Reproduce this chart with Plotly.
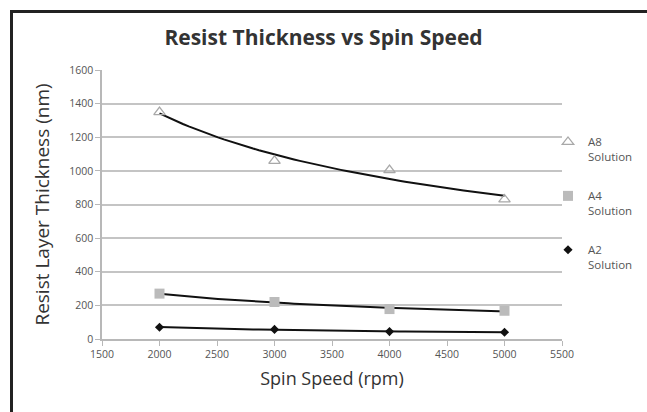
import numpy as np
import plotly.graph_objects as go

spin_speed = [2000, 3000, 4000, 5000]
a8_thickness = [1350, 1060, 1005, 830]
a4_thickness = [270, 220, 178, 168]
a2_thickness = [70, 57, 44, 40]
series_names = ["A8<br>Solution", "A4<br>Solution", "A2<br>Solution"]

def power_fit(x, y):
    b, ln_a = np.polyfit(np.log(x), np.log(y), 1)
    xs = np.linspace(min(x), max(x), 60)
    return xs, np.exp(ln_a) * xs ** b

W, H = 647, 412
L, R, T, B = 102, 85, 70, 73
PW, PH = W - L - R, H - T - B

fig = go.Figure()

styles = [
    dict(symbol="triangle-up-open", size=10, color="#a8a8a8", line=dict(width=1.3, color="#a8a8a8")),
    dict(symbol="square", size=10, color="#bbbbbb"),
    dict(symbol="diamond", size=7, color="#111111"),
]
data = [a8_thickness, a4_thickness, a2_thickness]

for ys in data:
    xs, yf = power_fit(np.array(spin_speed, float), np.array(ys, float))
    fig.add_trace(go.Scatter(x=xs, y=yf, mode="lines",
                             line=dict(color="#111111", width=2),
                             showlegend=False, hoverinfo="skip"))

for i, (ys, name, st) in enumerate(zip(data, series_names, styles)):
    fig.add_trace(go.Scatter(x=spin_speed, y=ys, mode="markers", name=name,
                             marker=st, legendgroup=f"g{i}"))

fig.update_layout(
    width=W, height=H,
    margin=dict(l=L, r=R, t=T, b=B, autoexpand=False),
    paper_bgcolor="white", plot_bgcolor="white",
    font=dict(family="Open Sans, Liberation Sans, sans-serif", color="#555555"),
    title=dict(text="<b>Resist Thickness vs Spin Speed</b>", x=0.5, xanchor="center",
               y=1 - 38 / H, yanchor="middle",
               font=dict(size=21, color="#333333")),
    showlegend=True,
    legend=dict(x=(548 - L) / PW, xanchor="left", y=1 - (128 - T) / PH, yanchor="top",
                font=dict(size=11.5, color="#555555"), tracegroupgap=21,
                valign="top", bgcolor="rgba(0,0,0,0)", itemwidth=30),
    shapes=[dict(type="rect", xref="paper", yref="paper",
                 x0=(11.5 - L) / PW, y0=1 + (T - 11.5) / PH, x1=1.5, y1=-0.5,
                 line=dict(color="#222222", width=3), layer="above")],
)

fig.update_xaxes(range=[1500, 5500], dtick=500, tick0=1500,
                 showgrid=False, showline=True, linecolor="#b8b8b8", linewidth=1.5,
                 ticks="outside", ticklen=5, tickcolor="#b8b8b8",
                 tickfont=dict(size=10.5, color="#555555"),
                 title=dict(text="Spin Speed (rpm)", font=dict(size=18, color="#333333"), standoff=12),
                 zeroline=False)
fig.update_yaxes(range=[0, 1600], dtick=200,
                 showgrid=True, gridcolor="#c4c4c4", gridwidth=1.5,
                 showline=True, linecolor="#b8b8b8", linewidth=1.5,
                 ticks="outside", ticklen=5, tickcolor="#b8b8b8",
                 tickfont=dict(size=10.5, color="#555555"),
                 title=dict(text="Resist Layer Thickness (nm)", font=dict(size=19, color="#333333"), standoff=14),
                 zeroline=False)

fig.write_html("out.html", config={"displayModeBar": False},
               post_script="document.body.style.margin='0';")
